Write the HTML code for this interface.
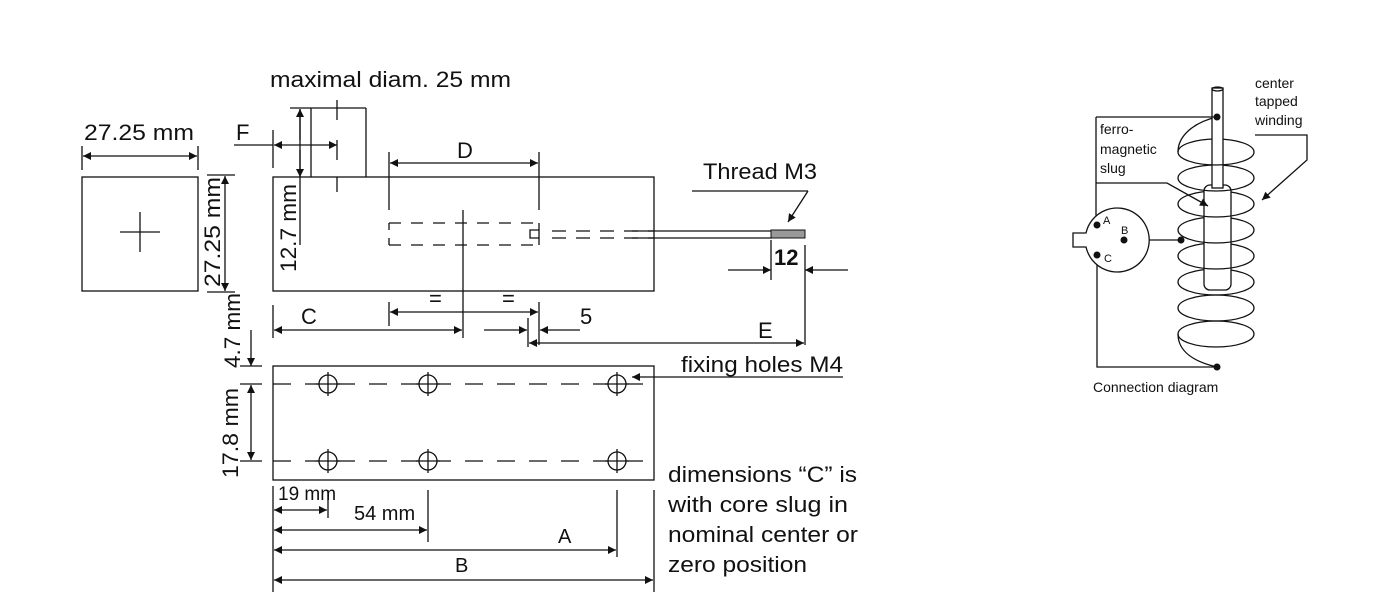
<!DOCTYPE html>
<html><head><meta charset="utf-8"><style>
html,body{margin:0;padding:0;background:#fff;}
svg{display:block;}
text{font-family:"Liberation Sans",sans-serif;fill:#111;}
</style></head><body>
<svg width="1385" height="610" viewBox="0 0 1385 610" xmlns="http://www.w3.org/2000/svg">
<defs>
<marker id="a" viewBox="0 0 10 10" refX="10" refY="5" markerWidth="16" markerHeight="8" markerUnits="userSpaceOnUse" orient="auto-start-reverse"><path d="M0,0 L10,5 L0,10 z" fill="#111"/></marker>
</defs>
<g stroke="#111" stroke-width="1.3" fill="none">
<rect x="82" y="177" width="116" height="114"/>
<line x1="120" y1="232" x2="160" y2="232"/><line x1="140" y1="212" x2="140" y2="252"/>
<line x1="82" y1="146" x2="82" y2="170"/><line x1="198" y1="146" x2="198" y2="170"/>
<line x1="83" y1="156" x2="197" y2="156" marker-start="url(#a)" marker-end="url(#a)"/>
<line x1="207" y1="175" x2="235" y2="175"/><line x1="207" y1="292" x2="235" y2="292"/>
<line x1="225" y1="176" x2="225" y2="291" marker-start="url(#a)" marker-end="url(#a)"/>
<rect x="273" y="177" width="381" height="114"/>
<line x1="273" y1="130" x2="273" y2="168"/>
<line x1="337" y1="100" x2="337" y2="120"/><line x1="337" y1="140" x2="337" y2="160"/><line x1="337" y1="177" x2="337" y2="192"/>
<line x1="234" y1="145" x2="273" y2="145"/>
<line x1="274" y1="145" x2="337" y2="145" marker-start="url(#a)" marker-end="url(#a)"/>
<line x1="290" y1="108" x2="366" y2="108"/><line x1="366" y1="108" x2="366" y2="177"/>
<line x1="311" y1="108" x2="311" y2="177"/>
<line x1="300" y1="109" x2="300" y2="245"/>
<line x1="300" y1="140" x2="300" y2="109" marker-end="url(#a)"/>
<line x1="300" y1="150" x2="300" y2="177" marker-end="url(#a)"/>
<line x1="389" y1="152" x2="389" y2="210"/><line x1="539" y1="152" x2="539" y2="210"/>
<line x1="390" y1="163" x2="538" y2="163" marker-start="url(#a)" marker-end="url(#a)"/>
<g stroke-dasharray="12,10">
<line x1="389" y1="223" x2="539" y2="223"/><line x1="389" y1="245" x2="539" y2="245"/>
</g>
<line x1="389" y1="223" x2="389" y2="230"/><line x1="389" y1="238" x2="389" y2="245"/>
<line x1="539" y1="223" x2="539" y2="245"/>
<path d="M539,230 H530 V238 H539"/>
<line x1="463" y1="210" x2="463" y2="338"/>
<g stroke-dasharray="14,10">
<line x1="552" y1="231" x2="654" y2="231"/><line x1="552" y1="238" x2="654" y2="238"/>
</g>
<line x1="632" y1="231" x2="772" y2="231"/><line x1="632" y1="238" x2="772" y2="238"/>
<rect x="771" y="230" width="34" height="8" fill="#999" stroke-width="1"/>
<line x1="771" y1="240" x2="771" y2="280"/><line x1="805" y1="245" x2="805" y2="345"/>
<line x1="728" y1="270" x2="771" y2="270" marker-end="url(#a)"/>
<line x1="848" y1="270" x2="805" y2="270" marker-end="url(#a)"/>
<line x1="692" y1="191" x2="808" y2="191"/>
<line x1="808" y1="191" x2="788" y2="222" marker-end="url(#a)"/>
<line x1="273" y1="305" x2="273" y2="338"/>
<line x1="274" y1="330" x2="462" y2="330" marker-start="url(#a)" marker-end="url(#a)"/>
<line x1="389" y1="302" x2="389" y2="326"/>
<line x1="390" y1="312" x2="538" y2="312" marker-start="url(#a)" marker-end="url(#a)"/>
<line x1="539" y1="302" x2="539" y2="345"/>
<line x1="528" y1="318" x2="528" y2="347"/>
<line x1="484" y1="330" x2="527" y2="330" marker-end="url(#a)"/>
<line x1="580" y1="330" x2="540" y2="330" marker-end="url(#a)"/>
<line x1="529" y1="343" x2="804" y2="343" marker-start="url(#a)" marker-end="url(#a)"/>
<rect x="273" y="366" width="381" height="114"/>
<g stroke-dasharray="18,14">
<line x1="273" y1="384" x2="652" y2="384"/><line x1="273" y1="461" x2="652" y2="461"/>
</g>
<g>
<circle cx="328" cy="384" r="9" fill="#fff"/><circle cx="428" cy="384" r="9" fill="#fff"/><circle cx="617" cy="384" r="9" fill="#fff"/>
<circle cx="328" cy="461" r="9" fill="#fff"/><circle cx="428" cy="461" r="9" fill="#fff"/><circle cx="617" cy="461" r="9" fill="#fff"/>
<line x1="316" y1="384" x2="340" y2="384"/><line x1="416" y1="384" x2="440" y2="384"/><line x1="605" y1="384" x2="629" y2="384"/>
<line x1="316" y1="461" x2="340" y2="461"/><line x1="416" y1="461" x2="440" y2="461"/><line x1="605" y1="461" x2="629" y2="461"/>
<line x1="328" y1="372" x2="328" y2="396"/><line x1="428" y1="372" x2="428" y2="396"/><line x1="617" y1="372" x2="617" y2="396"/>
<line x1="328" y1="449" x2="328" y2="473"/><line x1="428" y1="449" x2="428" y2="473"/><line x1="617" y1="449" x2="617" y2="473"/>
</g>
<line x1="843" y1="377" x2="632" y2="377" marker-end="url(#a)"/>
<line x1="240" y1="366" x2="262" y2="366"/><line x1="240" y1="384" x2="262" y2="384"/><line x1="240" y1="461" x2="262" y2="461"/>
<line x1="251" y1="330" x2="251" y2="366" marker-end="url(#a)"/>
<line x1="251" y1="385" x2="251" y2="460" marker-start="url(#a)" marker-end="url(#a)"/>
<line x1="273" y1="486" x2="273" y2="592"/>
<line x1="328" y1="490" x2="328" y2="518"/><line x1="428" y1="490" x2="428" y2="542"/>
<line x1="617" y1="490" x2="617" y2="557"/><line x1="654" y1="490" x2="654" y2="592"/>
<line x1="274" y1="510" x2="327" y2="510" marker-start="url(#a)" marker-end="url(#a)"/>
<line x1="274" y1="530" x2="427" y2="530" marker-start="url(#a)" marker-end="url(#a)"/>
<line x1="274" y1="550" x2="616" y2="550" marker-start="url(#a)" marker-end="url(#a)"/>
<line x1="274" y1="580" x2="653" y2="580" marker-start="url(#a)" marker-end="url(#a)"/>
<!-- connection diagram -->
<path d="M1178,152 A38,13 0 0 1 1254,152"/>
<path d="M1178,178 A38,13 0 0 1 1254,178"/>
<path d="M1178,204 A38,13 0 0 1 1254,204"/>
<path d="M1178,230 A38,13 0 0 1 1254,230"/>
<path d="M1178,256 A38,13 0 0 1 1254,256"/>
<path d="M1178,282 A38,13 0 0 1 1254,282"/>
<path d="M1178,308 A38,13 0 0 1 1254,308"/>
<path d="M1178,334 A38,13 0 0 1 1254,334"/>
<path d="M1217,117 C1195,122 1178,135 1178,152"/>
<path d="M1178,334 C1178,352 1195,362 1217,367"/>
<rect x="1204" y="185" width="27" height="105" rx="6" fill="#fff"/>
<rect x="1212" y="88" width="11" height="100" fill="#fff"/>
<ellipse cx="1217.5" cy="89" rx="5.5" ry="2"/>
<path d="M1254,152 A38,13 0 0 1 1178,152"/>
<path d="M1254,178 A38,13 0 0 1 1178,178"/>
<path d="M1254,204 A38,13 0 0 1 1178,204"/>
<path d="M1254,230 A38,13 0 0 1 1178,230"/>
<path d="M1254,256 A38,13 0 0 1 1178,256"/>
<path d="M1254,282 A38,13 0 0 1 1178,282"/>
<path d="M1254,308 A38,13 0 0 1 1178,308"/>
<path d="M1254,334 A38,13 0 0 1 1178,334"/>
<path d="M1096,117 H1217"/>
<path d="M1096,117 V225"/>
<path d="M1097,255 V367 H1217"/>
<path d="M1124,240 H1181"/>
<path d="M1086,233 A32,32 0 1 1 1086,247 H1073 V233 Z" fill="#fff"/>
<path d="M1096,183 H1167 L1208,206" marker-end="url(#a)"/>
<path d="M1255,135 H1307 V160 L1262,200" marker-end="url(#a)"/>
</g>
<g fill="#111">
<circle cx="1217" cy="117" r="3.5"/><circle cx="1217" cy="367" r="3.5"/><circle cx="1181" cy="240" r="3.5"/>
<circle cx="1097" cy="225" r="3.5"/><circle cx="1124" cy="240" r="3.5"/><circle cx="1097" cy="255" r="3.5"/>
</g>
<g font-size="22">
<text x="270" y="87" textLength="241" lengthAdjust="spacingAndGlyphs">maximal diam. 25 mm</text>
<text x="84" y="140" textLength="110" lengthAdjust="spacingAndGlyphs">27.25 mm</text>
<text x="236" y="140">F</text>
<text x="457" y="158">D</text>
<text x="703" y="179" textLength="114" lengthAdjust="spacingAndGlyphs">Thread M3</text>
<text x="774" y="265" font-weight="bold">12</text>
<text x="301" y="324">C</text>
<text x="429" y="306">=</text>
<text x="502" y="306">=</text>
<text x="580" y="324">5</text>
<text x="758" y="338">E</text>
<text x="681" y="372" textLength="162" lengthAdjust="spacingAndGlyphs">fixing holes M4</text>
<text x="278" y="500" font-size="19">19 mm</text>
<text x="354" y="520" font-size="20">54 mm</text>
<text x="558" y="543" font-size="20">A</text>
<text x="455" y="572" font-size="20">B</text>
<text x="668" y="482" textLength="189" lengthAdjust="spacingAndGlyphs">dimensions “C” is</text>
<text x="668" y="512" textLength="180" lengthAdjust="spacingAndGlyphs">with core slug in</text>
<text x="668" y="542" textLength="190" lengthAdjust="spacingAndGlyphs">nominal center or</text>
<text x="668" y="572" textLength="139" lengthAdjust="spacingAndGlyphs">zero position</text>
<text transform="translate(220,287) rotate(-90)" textLength="110" lengthAdjust="spacingAndGlyphs">27.25 mm</text>
<text transform="translate(296,272) rotate(-90)" textLength="88" lengthAdjust="spacingAndGlyphs">12.7 mm</text>
<text transform="translate(240,368) rotate(-90)" textLength="75" lengthAdjust="spacingAndGlyphs">4.7 mm</text>
<text transform="translate(238,478) rotate(-90)" textLength="90" lengthAdjust="spacingAndGlyphs">17.8 mm</text>
</g>
<g font-size="14">
<text x="1255" y="88">center</text>
<text x="1255" y="106">tapped</text>
<text x="1255" y="125">winding</text>
<text x="1100" y="134">ferro-</text>
<text x="1100" y="154">magnetic</text>
<text x="1100" y="173">slug</text>
<text x="1093" y="392">Connection diagram</text>
<text x="1103" y="224" font-size="11">A</text>
<text x="1121" y="234" font-size="11">B</text>
<text x="1104" y="262" font-size="11">C</text>
</g>
</svg>
</body></html>
